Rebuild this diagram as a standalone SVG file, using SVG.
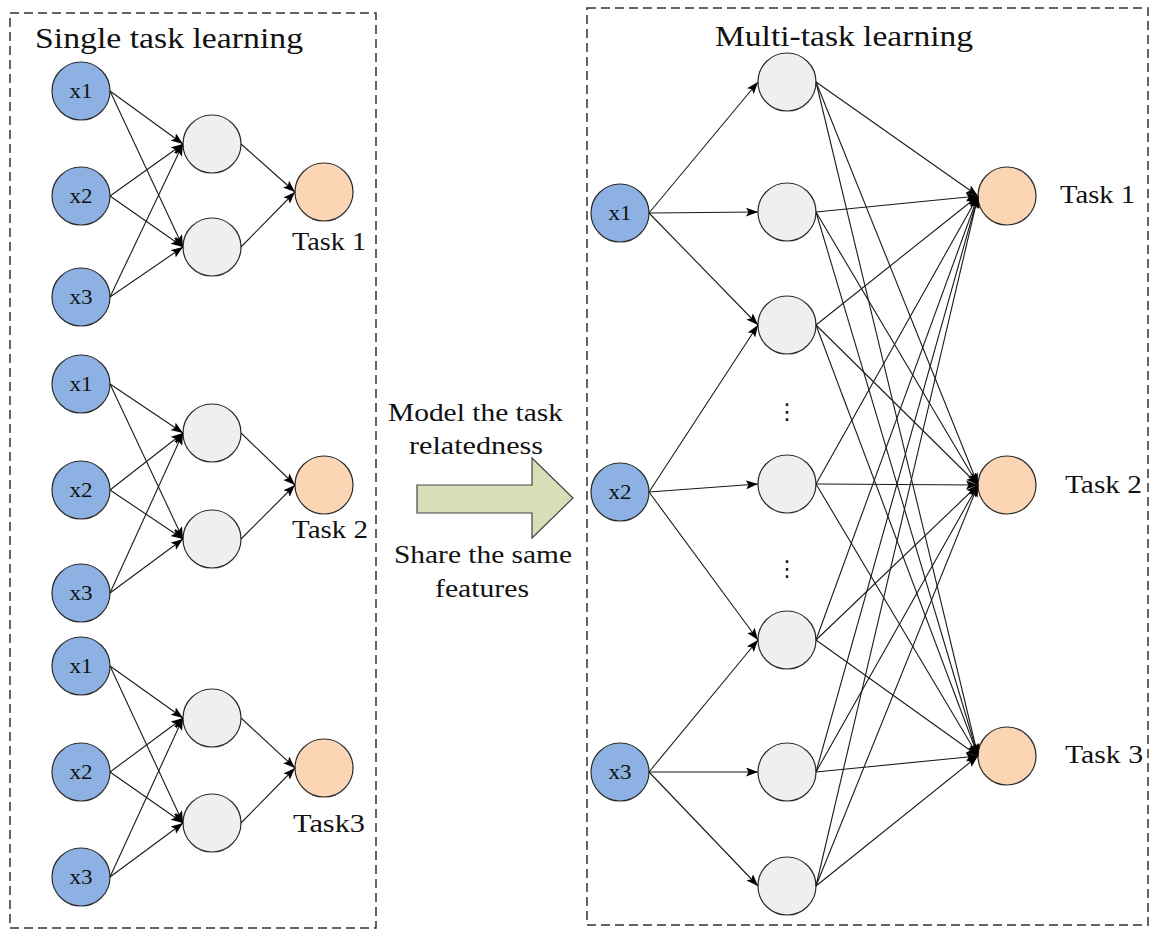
<svg xmlns="http://www.w3.org/2000/svg" width="1154" height="932" viewBox="0 0 1154 932">
<style>
.frame{fill:none;stroke:#333;stroke-width:1.5;stroke-dasharray:9,5}
.in{fill:#8db1e3;stroke:#2b2b2b;stroke-width:1.2}
.hid{fill:#efefef;stroke:#2b2b2b;stroke-width:1.2}
.out{fill:#fcd6b4;stroke:#2b2b2b;stroke-width:1.2}
.t{font-family:"Liberation Serif","Times New Roman",serif;fill:#111}
.lbl{font-size:25px}
.nl{font-size:21px;text-anchor:middle}
.title{font-size:29px}
.c{fill:none;stroke:#1a1a1a;stroke-width:1.1;marker-end:url(#ah)}
.dots{font-family:"DejaVu Sans",sans-serif;font-size:22px;text-anchor:middle;fill:#111}
</style>
<defs>
<marker id="ah" markerUnits="userSpaceOnUse" markerWidth="13" markerHeight="10" refX="12" refY="4.5" orient="auto">
<path d="M0,0 L12,4.5 L0,9 L2.5,4.5 z" fill="#000"/>
</marker>
</defs>
<rect width="1154" height="932" fill="#fff"/>

<g id="frames">
<rect class="frame" x="10" y="13" width="366" height="915"/>
<rect class="frame" x="587" y="8" width="561" height="917"/>
</g>

<g id="titles">
<text class="t title" x="35" y="48" textLength="268" lengthAdjust="spacingAndGlyphs">Single task learning</text>
<text class="t title" x="715" y="46" textLength="258" lengthAdjust="spacingAndGlyphs">Multi-task learning</text>
</g>

<g id="transfer-arrow">
<polygon points="417,485 532,485 532,458 573,498 532,538 532,513 417,513" fill="#d9deb8" stroke="#444" stroke-width="1.2"/>
<text class="t lbl" x="388" y="421" textLength="175" lengthAdjust="spacingAndGlyphs">Model the task</text>
<text class="t lbl" x="409" y="454" textLength="134" lengthAdjust="spacingAndGlyphs">relatedness</text>
<text class="t lbl" x="394" y="563" textLength="178" lengthAdjust="spacingAndGlyphs">Share the same</text>
<text class="t lbl" x="435" y="597" textLength="94" lengthAdjust="spacingAndGlyphs">features</text>
</g>

<!-- Single task learning nodes -->
<g id="s1-x1"><circle class="in" cx="81" cy="91" r="29"/><text class="t nl" x="81" y="98" textLength="23" lengthAdjust="spacingAndGlyphs">x1</text></g>
<g id="s1-x2"><circle class="in" cx="81" cy="196" r="29"/><text class="t nl" x="81" y="203" textLength="23" lengthAdjust="spacingAndGlyphs">x2</text></g>
<g id="s1-x3"><circle class="in" cx="81" cy="297" r="29"/><text class="t nl" x="81" y="304" textLength="23" lengthAdjust="spacingAndGlyphs">x3</text></g>
<g id="s1-h1"><circle class="hid" cx="212" cy="144" r="29"/></g>
<g id="s1-h2"><circle class="hid" cx="212" cy="247" r="29"/></g>
<g id="s1-task1"><circle class="out" cx="324" cy="192" r="29"/><text class="t lbl" x="292" y="250" textLength="74" lengthAdjust="spacingAndGlyphs">Task 1</text></g>

<g id="s2-x1"><circle class="in" cx="81" cy="384" r="29"/><text class="t nl" x="81" y="391" textLength="23" lengthAdjust="spacingAndGlyphs">x1</text></g>
<g id="s2-x2"><circle class="in" cx="81" cy="490" r="29"/><text class="t nl" x="81" y="497" textLength="23" lengthAdjust="spacingAndGlyphs">x2</text></g>
<g id="s2-x3"><circle class="in" cx="81" cy="593" r="29"/><text class="t nl" x="81" y="600" textLength="23" lengthAdjust="spacingAndGlyphs">x3</text></g>
<g id="s2-h1"><circle class="hid" cx="212" cy="433" r="29"/></g>
<g id="s2-h2"><circle class="hid" cx="212" cy="539" r="29"/></g>
<g id="s2-task2"><circle class="out" cx="324" cy="485" r="29"/><text class="t lbl" x="292" y="538" textLength="76" lengthAdjust="spacingAndGlyphs">Task 2</text></g>

<g id="s3-x1"><circle class="in" cx="81" cy="666" r="29"/><text class="t nl" x="81" y="673" textLength="23" lengthAdjust="spacingAndGlyphs">x1</text></g>
<g id="s3-x2"><circle class="in" cx="81" cy="772" r="29"/><text class="t nl" x="81" y="779" textLength="23" lengthAdjust="spacingAndGlyphs">x2</text></g>
<g id="s3-x3"><circle class="in" cx="81" cy="877" r="29"/><text class="t nl" x="81" y="884" textLength="23" lengthAdjust="spacingAndGlyphs">x3</text></g>
<g id="s3-h1"><circle class="hid" cx="212" cy="718" r="29"/></g>
<g id="s3-h2"><circle class="hid" cx="212" cy="823" r="29"/></g>
<g id="s3-task3"><circle class="out" cx="324" cy="768" r="29"/><text class="t lbl" x="293" y="832" textLength="72" lengthAdjust="spacingAndGlyphs">Task3</text></g>

<!-- Multi-task learning nodes -->
<g id="m-x1"><circle class="in" cx="620" cy="213" r="29"/><text class="t nl" x="620" y="220" textLength="23" lengthAdjust="spacingAndGlyphs">x1</text></g>
<g id="m-x2"><circle class="in" cx="620" cy="492" r="29"/><text class="t nl" x="620" y="499" textLength="23" lengthAdjust="spacingAndGlyphs">x2</text></g>
<g id="m-x3"><circle class="in" cx="620" cy="772" r="29"/><text class="t nl" x="620" y="779" textLength="23" lengthAdjust="spacingAndGlyphs">x3</text></g>
<g id="m-h1"><circle class="hid" cx="787" cy="82" r="29"/></g>
<g id="m-h2"><circle class="hid" cx="787" cy="212" r="29"/></g>
<g id="m-h3"><circle class="hid" cx="787" cy="325" r="29"/></g>
<g id="m-dots1"><text class="dots" x="787" y="419">⋮</text></g>
<g id="m-h4"><circle class="hid" cx="787" cy="484" r="29"/></g>
<g id="m-dots2"><text class="dots" x="787" y="576">⋮</text></g>
<g id="m-h5"><circle class="hid" cx="787" cy="640" r="29"/></g>
<g id="m-h6"><circle class="hid" cx="787" cy="772" r="29"/></g>
<g id="m-h7"><circle class="hid" cx="787" cy="886" r="29"/></g>
<g id="m-task1"><circle class="out" cx="1007" cy="196" r="29"/><text class="t lbl" x="1060" y="203" textLength="75" lengthAdjust="spacingAndGlyphs">Task 1</text></g>
<g id="m-task2"><circle class="out" cx="1007" cy="485" r="29"/><text class="t lbl" x="1065" y="493" textLength="77" lengthAdjust="spacingAndGlyphs">Task 2</text></g>
<g id="m-task3"><circle class="out" cx="1007" cy="756" r="29"/><text class="t lbl" x="1065" y="763" textLength="78" lengthAdjust="spacingAndGlyphs">Task 3</text></g>

<g id="connectors">
<!-- single task group 1 -->
<path class="c" d="M110,91 L183,144"/>
<path class="c" d="M110,91 L183,247"/>
<path class="c" d="M110,196 L183,144"/>
<path class="c" d="M110,196 L183,247"/>
<path class="c" d="M110,297 L183,144"/>
<path class="c" d="M110,297 L183,247"/>
<path class="c" d="M241,144 L295,192"/>
<path class="c" d="M241,247 L295,192"/>
<!-- group 2 -->
<path class="c" d="M110,384 L183,433"/>
<path class="c" d="M110,384 L183,539"/>
<path class="c" d="M110,490 L183,433"/>
<path class="c" d="M110,490 L183,539"/>
<path class="c" d="M110,593 L183,433"/>
<path class="c" d="M110,593 L183,539"/>
<path class="c" d="M241,433 L295,485"/>
<path class="c" d="M241,539 L295,485"/>
<!-- group 3 -->
<path class="c" d="M110,666 L183,718"/>
<path class="c" d="M110,666 L183,823"/>
<path class="c" d="M110,772 L183,718"/>
<path class="c" d="M110,772 L183,823"/>
<path class="c" d="M110,877 L183,718"/>
<path class="c" d="M110,877 L183,823"/>
<path class="c" d="M241,718 L295,768"/>
<path class="c" d="M241,823 L295,768"/>
<!-- multi-task inputs to hidden -->
<path class="c" d="M649,213 L758,82"/>
<path class="c" d="M649,213 L758,212"/>
<path class="c" d="M649,213 L758,325"/>
<path class="c" d="M649,492 L758,325"/>
<path class="c" d="M649,492 L758,484"/>
<path class="c" d="M649,492 L758,640"/>
<path class="c" d="M649,772 L758,640"/>
<path class="c" d="M649,772 L758,772"/>
<path class="c" d="M649,772 L758,886"/>
<!-- hidden to tasks -->
<path class="c" d="M816,82 L978,196"/>
<path class="c" d="M816,82 L978,485"/>
<path class="c" d="M816,82 L978,756"/>
<path class="c" d="M816,212 L978,196"/>
<path class="c" d="M816,212 L978,485"/>
<path class="c" d="M816,212 L978,756"/>
<path class="c" d="M816,325 L978,196"/>
<path class="c" d="M816,325 L978,485"/>
<path class="c" d="M816,325 L978,756"/>
<path class="c" d="M816,484 L978,196"/>
<path class="c" d="M816,484 L978,485"/>
<path class="c" d="M816,484 L978,756"/>
<path class="c" d="M816,640 L978,196"/>
<path class="c" d="M816,640 L978,485"/>
<path class="c" d="M816,640 L978,756"/>
<path class="c" d="M816,772 L978,196"/>
<path class="c" d="M816,772 L978,485"/>
<path class="c" d="M816,772 L978,756"/>
<path class="c" d="M816,886 L978,196"/>
<path class="c" d="M816,886 L978,485"/>
<path class="c" d="M816,886 L978,756"/>
</g>
</svg>
